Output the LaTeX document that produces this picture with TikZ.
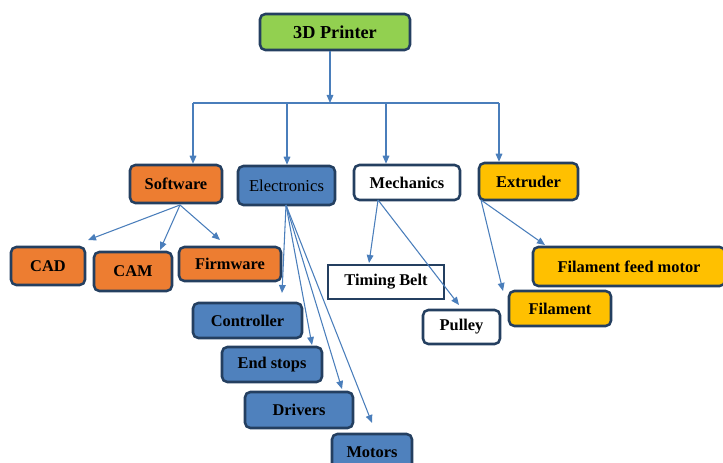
\documentclass[tikz,border=0pt]{standalone}
\usepackage{fontspec}
\setmainfont{Liberation Serif}
\usetikzlibrary{arrows.meta}
\definecolor{edgeblue}{HTML}{4A7EBB}
\definecolor{frame}{HTML}{243F60}
\definecolor{fillgreen}{HTML}{92D050}
\definecolor{fillorange}{HTML}{ED7D31}
\definecolor{fillblue}{HTML}{4F81BD}
\definecolor{fillgold}{HTML}{FFC000}
\tikzset{
  box/.style={draw=frame, line width=1.9pt, rounded corners=4pt, inner sep=0pt,
    font=\fontsize{12.3pt}{14pt}\selectfont\bfseries, text=black},
  sbox/.style={box, rounded corners=0pt},
  arr/.style={draw=edgeblue, line width=0.8pt, -{Triangle[length=6pt,width=5pt]}},
  bus/.style={draw=edgeblue, line width=0.8pt},
}
\newcommand{\bx}[6]{\node[#1, fill=#2, minimum width=#5*0.75pt, minimum height=#6*0.75pt] (#3) at (#4) {#3};}
\begin{document}
\begin{tikzpicture}[x=0.75pt, y=-0.75pt]
\useasboundingbox (0,0) rectangle (723,463);

% top node
\node[box, fill=fillgreen, minimum width=112.5pt, minimum height=27pt,
  font=\fontsize{13.7pt}{16pt}\selectfont\bfseries] (printer) at (335,32) {3D Printer};

% main branches
\node[box, fill=fillorange, minimum width=69pt, minimum height=28.5pt] (software) at (176,184) {Software};
\node[box, fill=fillblue, minimum width=72.75pt, minimum height=29.25pt,
  font=\fontsize{12.5pt}{14pt}\selectfont] (electronics) at (286.5,185.5) {Electronics};
\node[box, fill=white, minimum width=79.5pt, minimum height=26.25pt] (mechanics) at (407,182.5) {Mechanics};
\node[box, fill=fillgold, minimum width=74.25pt, minimum height=27.75pt] (extruder) at (528.5,181.5) {Extruder};

% software parts
\node[box, fill=fillorange, minimum width=55.5pt, minimum height=28.5pt] (cad) at (48,266) {CAD};
\node[box, fill=fillorange, minimum width=58.5pt, minimum height=29.25pt] (cam) at (133,271.5) {CAM};
\node[box, fill=fillorange, minimum width=76.5pt, minimum height=25.5pt] (firmware) at (230,264) {Firmware};

% electronics parts
\node[box, fill=fillblue, minimum width=81.75pt, minimum height=26.25pt] (controller) at (247.5,320.5) {Controller};
\node[box, fill=fillblue, minimum width=75pt, minimum height=26.25pt] (endstops) at (272,364.5) {End stops};
\node[box, fill=fillblue, minimum width=81pt, minimum height=27pt] (drivers) at (299,410) {Drivers};
\node[box, fill=fillblue, minimum width=60pt, minimum height=27pt] (motors) at (372,452) {Motors};

% mechanics parts
\node[sbox, fill=white, minimum width=87pt, minimum height=25.5pt] (timing) at (386,282) {Timing Belt};
\node[box, fill=white, minimum width=57.75pt, minimum height=25.5pt] (pulley) at (461.5,327) {Pulley};

% extruder parts
\node[box, fill=fillgold, minimum width=144pt, minimum height=29.25pt] (feed) at (629,266.5) {Filament feed motor};
\node[box, fill=fillgold, minimum width=76.5pt, minimum height=26.25pt] (filament) at (560,308.5) {Filament};

% bus from the top node to the four branches
\coordinate (bmid) at (330,103);
\coordinate (b1) at (193,103);
\coordinate (b2) at (287,103);
\coordinate (b3) at (386,103);
\coordinate (b4) at (499,103);
\draw[arr] (printer.south -| bmid) -- (bmid);
\draw[bus] (b1) -- (b4);
\draw[arr] (b1) -- (b1 |- software.north);
\draw[arr] (b2) -- (b2 |- electronics.north);
\draw[arr] (b3) -- (b3 |- mechanics.north);
\draw[arr] (b4) -- (b4 |- extruder.north);

% software fan
\coordinate (s0) at (180,205);
\coordinate (s1) at (88,240);
\coordinate (s2) at (160,250);
\coordinate (s3) at (220,240);
\draw[arr] (s0) -- (s1);
\draw[arr] (s0) -- (s2);
\draw[arr] (s0) -- (s3);

% electronics fan
\coordinate (e0) at (286,205);
\coordinate (e1) at (282,293);
\coordinate (e2) at (312,345);
\coordinate (e3) at (342,389);
\coordinate (e4) at (372,423);
\draw[arr] (e0) -- (e1);
\draw[arr] (e0) -- (e2);
\draw[arr] (e0) -- (e3);
\draw[arr] (e0) -- (e4);

% mechanics fan
\coordinate (m0) at (378,200);
\coordinate (m1) at (369,263);
\coordinate (m2) at (459,305);
\draw[arr] (m0) -- (m1);
\draw[arr] (m0) -- (m2);

% extruder fan
\coordinate (x0) at (481,200);
\coordinate (x1) at (545,245);
\coordinate (x2) at (503,291);
\draw[arr] (x0) -- (x1);
\draw[arr] (x0) -- (x2);
\end{tikzpicture}
\end{document}
